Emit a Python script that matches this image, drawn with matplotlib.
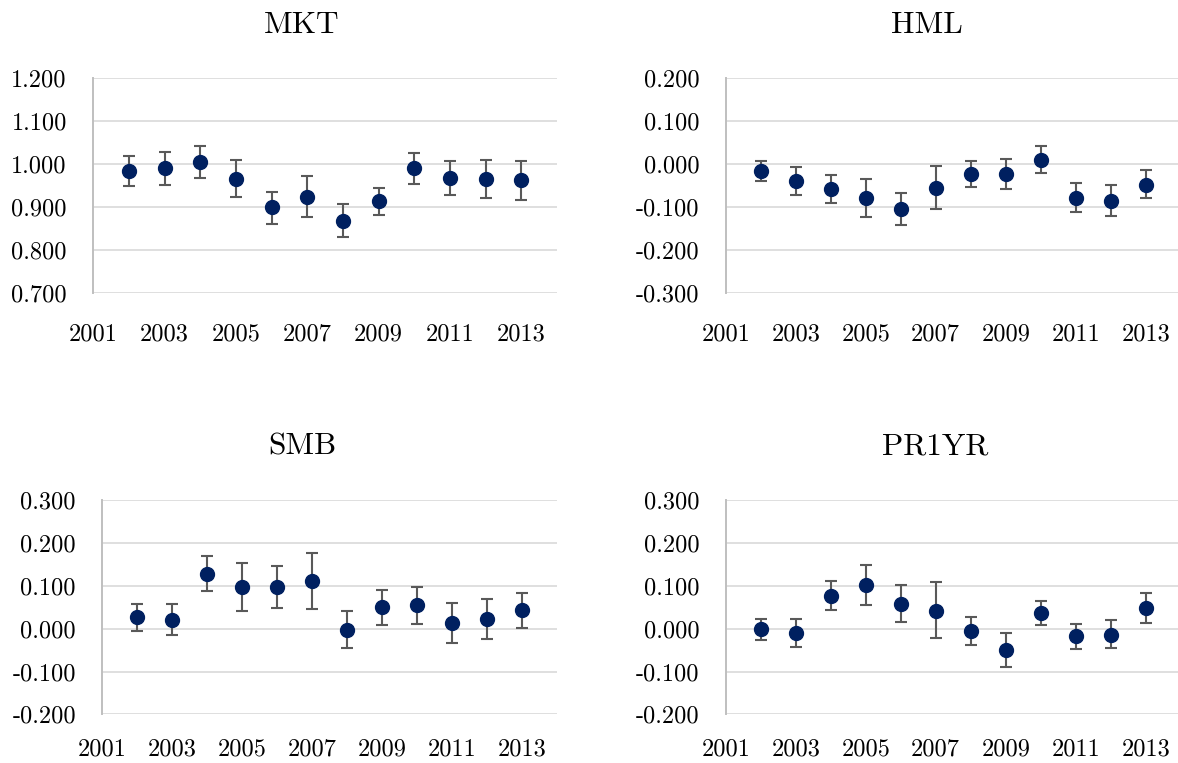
import matplotlib
matplotlib.use("Agg")
import matplotlib.pyplot as plt
from matplotlib.ticker import FuncFormatter, MultipleLocator
import numpy as np

plt.rcParams['font.family'] = ['cmr10', 'DejaVu Serif']
plt.rcParams['axes.unicode_minus'] = False

years = [2002, 2003, 2004, 2005, 2006, 2007, 2008, 2009, 2010, 2011, 2012, 2013]
xtick_years = [2001, 2003, 2005, 2007, 2009, 2011, 2013]

mkt_est = [0.983, 0.990, 1.004, 0.965, 0.899, 0.924, 0.868, 0.913, 0.990, 0.968, 0.965, 0.962]
mkt_lo = [0.949, 0.952, 0.968, 0.923, 0.861, 0.876, 0.830, 0.881, 0.953, 0.929, 0.920, 0.917]
mkt_hi = [1.018, 1.029, 1.042, 1.009, 0.935, 0.972, 0.908, 0.945, 1.026, 1.008, 1.009, 1.007]

hml_est = [-0.016, -0.040, -0.059, -0.080, -0.104, -0.056, -0.023, -0.024, 0.010, -0.078, -0.085, -0.048]
hml_lo = [-0.040, -0.072, -0.091, -0.123, -0.141, -0.105, -0.053, -0.058, -0.020, -0.112, -0.121, -0.079]
hml_hi = [0.007, -0.006, -0.026, -0.036, -0.067, -0.004, 0.007, 0.012, 0.043, -0.045, -0.048, -0.014]

smb_est = [0.026, 0.021, 0.128, 0.096, 0.096, 0.111, -0.004, 0.050, 0.054, 0.013, 0.022, 0.043]
smb_lo = [-0.006, -0.015, 0.088, 0.040, 0.048, 0.046, -0.045, 0.009, 0.010, -0.033, -0.024, 0.002]
smb_hi = [0.057, 0.057, 0.169, 0.154, 0.146, 0.177, 0.040, 0.090, 0.098, 0.060, 0.069, 0.083]

pr_est = [-0.002, -0.011, 0.077, 0.102, 0.058, 0.042, -0.006, -0.050, 0.036, -0.018, -0.014, 0.047]
pr_lo = [-0.026, -0.042, 0.044, 0.055, 0.015, -0.022, -0.038, -0.090, 0.008, -0.047, -0.046, 0.012]
pr_hi = [0.022, 0.022, 0.111, 0.149, 0.102, 0.108, 0.026, -0.010, 0.065, 0.010, 0.019, 0.082]

titles = ["MKT", "HML", "SMB", "PR1YR"]
ylims = [(0.7, 1.2), (-0.3, 0.2), (-0.2, 0.3), (-0.2, 0.3)]

W, H = 1178, 763
fig = plt.figure(figsize=(W / 100, H / 100), dpi=100)

# axes boxes in pixels: left, top, width, height
boxes = [(93.3, 78.3, 463.7, 214.4), (725.7, 78.3, 455.0, 214.4),
         (102.3, 500.0, 455.0, 214.4), (725.7, 500.0, 455.0, 214.4)]
title_pos = [(302, 25), (927, 25), (302, 447), (935, 447)]
xpads = [22, 22, 17, 17]

series = [(mkt_est, mkt_lo, mkt_hi), (hml_est, hml_lo, hml_hi),
          (smb_est, smb_lo, smb_hi), (pr_est, pr_lo, pr_hi)]

navy = "#002060"
errc = "#595959"
gridc = "#d9d9d9"

for (l, t, w, h), (est, lo, hi), title, ylim, (tx, ty), xpad in zip(boxes, series, titles, ylims, title_pos, xpads):
    ax = fig.add_axes([l / W, 1 - (t + h) / H, w / W, h / H])
    est = np.array(est); lo = np.array(lo); hi = np.array(hi)
    ax.errorbar(years, est, yerr=[est - lo, hi - est], fmt='o', color=navy,
                markersize=10, ecolor=errc, elinewidth=1.5, capsize=4.3,
                capthick=1.5, zorder=3)
    ax.set_xlim(2001, 2014)
    ax.set_ylim(*ylim)
    ax.set_xticks(xtick_years)
    ax.set_xticklabels([str(y) for y in xtick_years])
    ax.yaxis.set_major_locator(MultipleLocator(0.1))
    ax.yaxis.set_major_formatter(FuncFormatter(lambda v, p: f"{v:.3f}".replace("-0.000", "0.000")))
    ax.grid(axis='y', color=gridc, linewidth=1.2, zorder=0)
    ax.set_axisbelow(True)
    for s in ['top', 'right', 'bottom']:
        ax.spines[s].set_visible(False)
    ax.spines['left'].set_color("#bfbfbf")
    ax.spines['left'].set_linewidth(1.4)
    ax.tick_params(axis='both', length=0, labelsize=17.5, colors='black')
    ax.tick_params(axis='y', pad=19)
    ax.tick_params(axis='x', pad=xpad)
    fig.text(tx / W, 1 - ty / H, title, ha='center', va='center', fontsize=22.5)

fig.savefig("out.png", dpi=100)
